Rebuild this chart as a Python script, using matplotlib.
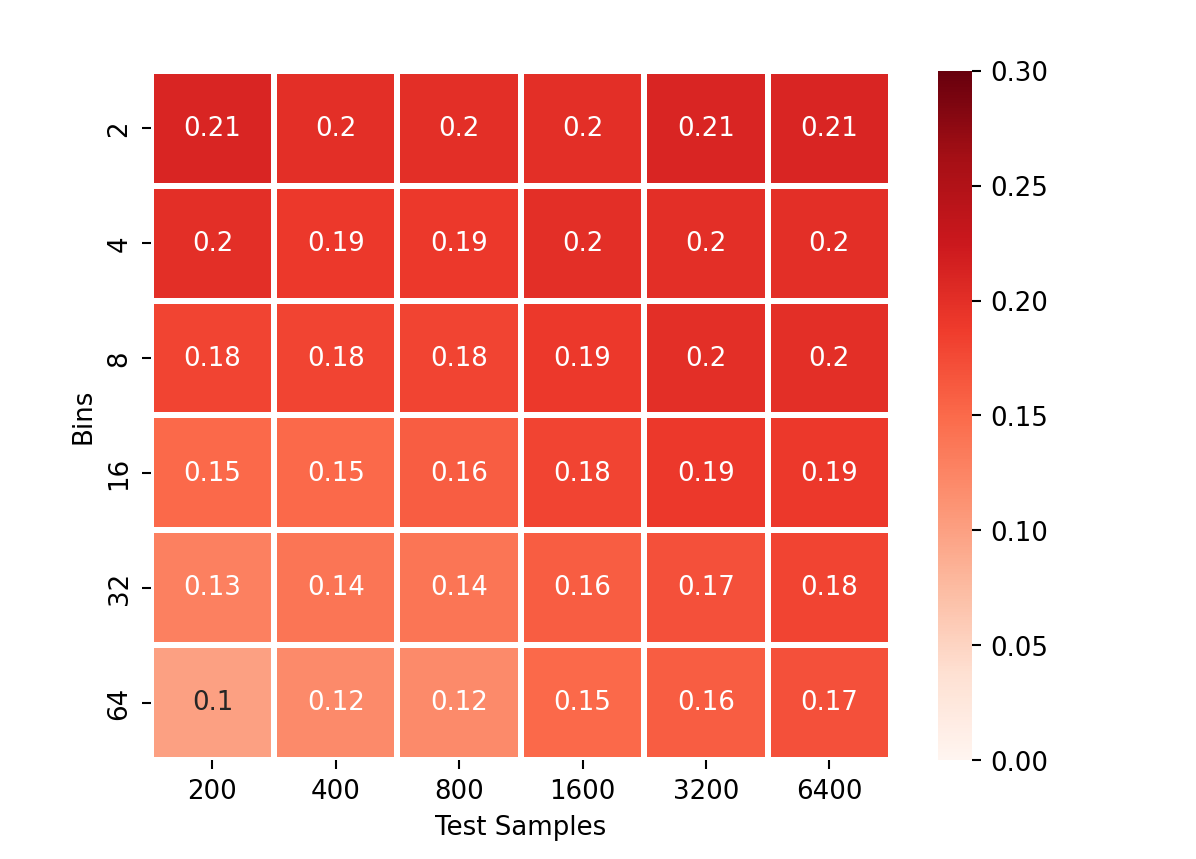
import numpy as np
import pandas as pd
import seaborn as sns
import matplotlib
matplotlib.use('Agg')
import matplotlib.pyplot as plt

# Values
bins = [2, 4, 8, 16, 32, 64]
test_samples = [200, 400, 800, 1600, 3200, 6400]
row_2 = [0.21, 0.20, 0.20, 0.20, 0.21, 0.21]
row_4 = [0.20, 0.19, 0.19, 0.20, 0.20, 0.20]
row_8 = [0.18, 0.18, 0.18, 0.19, 0.20, 0.20]
row_16 = [0.15, 0.15, 0.16, 0.18, 0.19, 0.19]
row_32 = [0.13, 0.14, 0.14, 0.16, 0.17, 0.18]
row_64 = [0.10, 0.12, 0.12, 0.15, 0.16, 0.17]

df = pd.DataFrame([row_2, row_4, row_8, row_16, row_32, row_64],
                  index=bins, columns=test_samples)

fig = plt.figure(figsize=(6.4, 4.6), dpi=186.875)
ax = fig.add_axes([0.126, 0.115, 0.619, 0.802])
cax = fig.add_axes([0.784, 0.115, 0.029, 0.802])

sns.heatmap(df, ax=ax, cbar_ax=cax, cmap='Reds', vmin=0, vmax=0.3,
            annot=True, fmt='.2g', linewidths=2.3, linecolor='white')

ax.set_xlabel('Test Samples')
ax.set_ylabel('Bins')
ax.set_yticklabels(ax.get_yticklabels(), rotation=90, va='center')
ax.set_xticklabels(ax.get_xticklabels(), rotation=0)

fig.savefig('out.png', dpi=186.875)
